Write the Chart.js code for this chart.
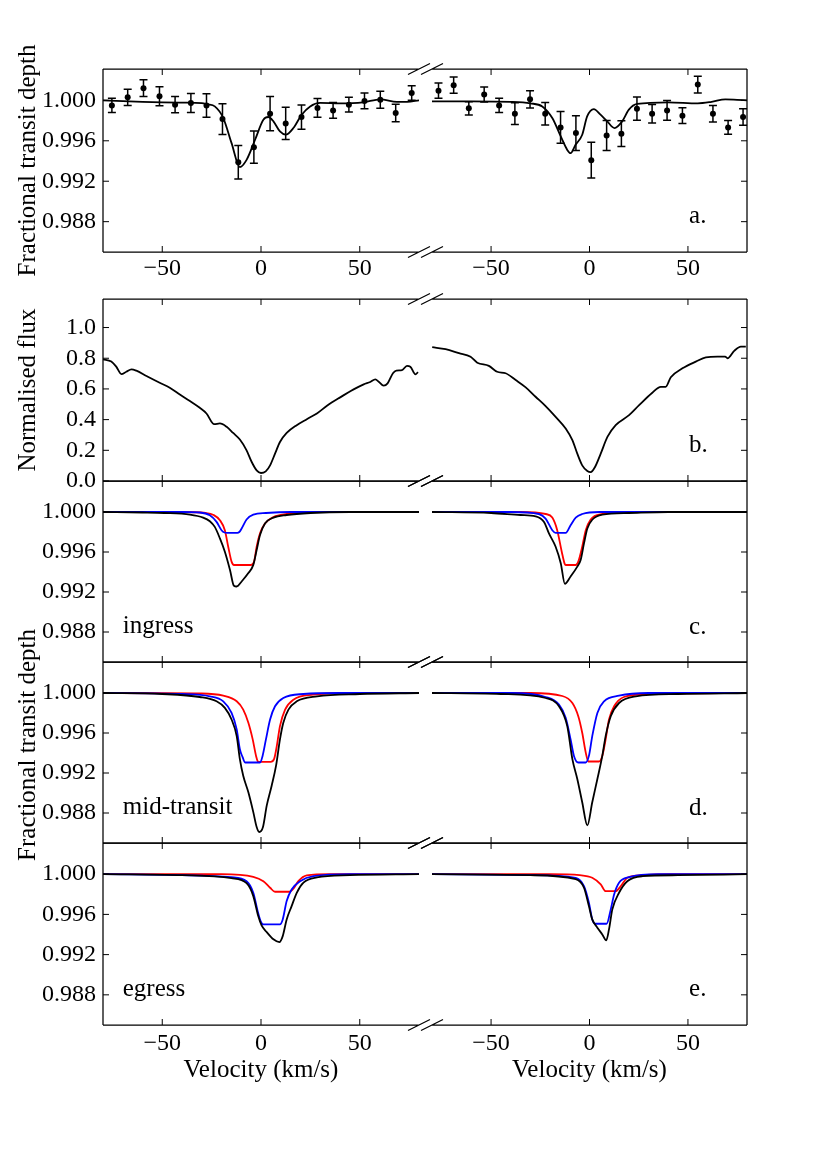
<!DOCTYPE html>
<html>
<head>
<meta charset="utf-8">
<script src="https://cdn.jsdelivr.net/npm/chart.js@4.4.0/dist/chart.umd.min.js"></script>
<style>
  html, body { margin: 0; padding: 0; background: #fff; }
  #page { position: relative; width: 830px; height: 1173px; background: #fff; }
  #page canvas { position: absolute; left: 0; top: 0; }
</style>
</head>
<body>
<div id="page"></div>
<script>
// tick values
const velocityTicks = [-50, 0, 50];
const depthTicks = [0.988, 0.992, 0.996, 1.000];
const fluxTicks = [0.0, 0.2, 0.4, 0.6, 0.8, 1.0];

// panel a: observed points
const aLeftVel = [-75.5, -67.5, -59.5, -51.4, -43.5, -35.5, -27.6, -19.5, -11.5, -3.6, 4.6, 12.5, 20.5, 28.6, 36.5, 44.5, 52.4, 60.4, 68.2, 76.3];
const aLeftDepth = [0.99950, 1.00030, 1.00120, 1.00040, 0.99957, 0.99974, 0.99950, 0.99815, 0.99388, 0.99537, 0.99868, 0.99772, 0.99835, 0.99925, 0.99900, 0.99957, 0.99994, 1.00007, 0.99875, 1.00073];
const aLeftErr = [0.00071, 0.00080, 0.00083, 0.00094, 0.00080, 0.00094, 0.00116, 0.00152, 0.00166, 0.00159, 0.00169, 0.00160, 0.00120, 0.00093, 0.00078, 0.00073, 0.00078, 0.00084, 0.00086, 0.00071];

const aRightVel = [-76.7, -69.0, -61.3, -53.5, -45.9, -37.9, -30.2, -22.5, -14.7, -6.9, 0.9, 8.7, 16.2, 24.1, 31.8, 39.4, 47.2, 55.0, 62.7, 70.4, 78.0];
const aRightDepth = [1.00096, 1.00150, 0.99921, 1.00057, 0.99950, 0.99868, 1.00010, 0.99868, 0.99732, 0.99676, 0.99408, 0.99652, 0.99670, 0.99918, 0.99868, 0.99900, 0.99848, 1.00156, 0.99868, 0.99732, 0.99835];
const aRightErr = [0.00076, 0.00080, 0.00066, 0.00074, 0.00071, 0.00108, 0.00086, 0.00111, 0.00157, 0.00172, 0.00177, 0.00149, 0.00127, 0.00114, 0.00091, 0.00098, 0.00078, 0.00083, 0.00081, 0.00068, 0.00081];

// panel a: model curves [velocity, depth]
const aLeftModel = [[-80, 1.0000], [-70, 0.99992], [-60, 0.99985], [-50, 0.9998], [-40, 0.99977], [-30, 0.99972], [-27, 0.9996], [-23.4, 0.9994], [-19.1, 0.99825], [-14.9, 0.99577], [-10.7, 0.99340], [-7.3, 0.99411], [-3.0, 0.9961], [1.2, 0.99808], [3.7, 0.99835], [6.3, 0.99792], [9.6, 0.99692], [12.5, 0.9966], [16.4, 0.99726], [20.6, 0.99858], [24.9, 0.9994], [29.9, 0.99974], [40, 0.9997], [51.6, 0.9998], [60.4, 1.0001], [68.8, 0.99984], [74, 0.99985], [80, 1.0000]];
const aRightModel = [[-80, 0.9999], [-60, 0.9999], [-40, 0.99985], [-30, 0.9997], [-24, 0.9994], [-18.9, 0.99825], [-14.6, 0.99643], [-11.3, 0.9951], [-9.6, 0.99478], [-7.1, 0.9956], [-3.7, 0.9966], [-1.2, 0.99841], [2.2, 0.99914], [5.6, 0.99858], [9.0, 0.99792], [12.7, 0.99726], [16.6, 0.99792], [20, 0.99908], [24.2, 0.99964], [40, 0.9998], [55, 0.9997], [62, 0.99985], [69, 1.0001], [75, 1.00005], [80, 1.0000]];

// panel b: normalised flux [velocity, flux]
const bLeftFlux = [[-80, 0.793], [-75.8, 0.778], [-73.3, 0.745], [-70.7, 0.697], [-68.2, 0.712], [-65.6, 0.728], [-63.1, 0.719], [-58.0, 0.684], [-51.3, 0.640], [-46.2, 0.608], [-41.1, 0.564], [-36.0, 0.521], [-31.0, 0.477], [-27.6, 0.440], [-23.7, 0.370], [-20.8, 0.375], [-17.4, 0.353], [-14.1, 0.313], [-10.7, 0.270], [-7.3, 0.200], [-4.7, 0.124], [-2.2, 0.069], [0, 0.052], [2.4, 0.063], [4.6, 0.102], [7.1, 0.178], [9.6, 0.254], [13.0, 0.313], [18.1, 0.364], [23.2, 0.403], [28.3, 0.440], [33.4, 0.490], [40.1, 0.545], [46.9, 0.597], [52.0, 0.630], [55.3, 0.645], [57.9, 0.662], [59.6, 0.647], [62.1, 0.621], [64.1, 0.636], [66.8, 0.702], [68.5, 0.719], [71.4, 0.722], [73.9, 0.750], [75.6, 0.745], [78.2, 0.695], [79.5, 0.710]];
const bRightFlux = [[-79.9, 0.872], [-73.1, 0.859], [-66.3, 0.833], [-60.4, 0.810], [-57.0, 0.771], [-51.1, 0.750], [-46.9, 0.712], [-42.6, 0.702], [-37.5, 0.658], [-32.4, 0.610], [-27.4, 0.549], [-22.3, 0.488], [-17.2, 0.418], [-12.1, 0.342], [-8.7, 0.266], [-6.2, 0.178], [-3.7, 0.102], [-1.1, 0.065], [0.6, 0.058], [2.8, 0.091], [5.7, 0.178], [9.1, 0.287], [13.3, 0.364], [20.1, 0.429], [25.2, 0.494], [31.9, 0.575], [36.2, 0.614], [38.7, 0.614], [41.3, 0.676], [47.2, 0.734], [54.0, 0.778], [59.1, 0.806], [65.0, 0.810], [68.9, 0.810], [70.1, 0.800], [73.5, 0.848], [76.9, 0.876], [79.4, 0.876]];

// panel c: ingress
const cLeftTotal = [[-80, 1], [-60, 0.99995], [-49, 0.9999], [-36, 0.99974], [-29.3, 0.99944], [-25.9, 0.99908], [-23.4, 0.99851], [-20.8, 0.99736], [-18.3, 0.99603], [-15.7, 0.99421], [-13.7, 0.99262], [-12.3, 0.99255], [-9.8, 0.99305], [-6.4, 0.99389], [-3.9, 0.99471], [-2.2, 0.9962], [-0.5, 0.99769], [2, 0.99885], [6.3, 0.99944], [13, 0.9997], [25, 0.9999], [45, 1], [80, 1]];
const cLeftRed = [[-80, 1], [-40, 1], [-28, 0.9999], [-24, 0.9997], [-20.8, 0.99918], [-18.3, 0.99818], [-16.6, 0.99653], [-14.9, 0.99504], [-13.7, 0.9947], [-5, 0.9947], [-3.5, 0.99504], [-2.2, 0.99653], [-0.5, 0.99786], [2, 0.99885], [6.3, 0.9995], [13, 0.9998], [25, 1], [80, 1]];
const cLeftBlue = [[-80, 1], [-40, 1], [-31, 0.99995], [-25.9, 0.99967], [-22.5, 0.99901], [-20, 0.99818], [-18.5, 0.99795], [-17, 0.99792], [-12, 0.99792], [-11, 0.998], [-9.8, 0.99835], [-7.3, 0.99925], [-3.9, 0.99974], [2.5, 0.9999], [15, 1], [80, 1]];
const cRightTotal = [[-80, 1], [-50, 0.9999], [-35, 0.9997], [-27.4, 0.99957], [-23.1, 0.99901], [-20.6, 0.99786], [-17.2, 0.99653], [-14.6, 0.99488], [-12.5, 0.99282], [-9.6, 0.99355], [-6.2, 0.99454], [-4.5, 0.9952], [-2.8, 0.99686], [-1.1, 0.99835], [1.5, 0.99925], [6.5, 0.99974], [20, 0.9999], [40, 1], [80, 1]];
const cRightRed = [[-80, 1], [-35, 1], [-22.3, 0.9998], [-18.9, 0.99944], [-16.4, 0.99818], [-14.1, 0.99603], [-12.6, 0.99481], [-12.1, 0.9947], [-7.0, 0.9947], [-5.7, 0.99504], [-3.7, 0.99653], [-1.9, 0.99818], [0.6, 0.99925], [6.5, 0.9998], [20, 1], [80, 1]];
const cRightBlue = [[-80, 1], [-40, 1], [-25.7, 0.9998], [-22.3, 0.99934], [-18.9, 0.99818], [-17.2, 0.99792], [-12.1, 0.99792], [-9.6, 0.99868], [-7.0, 0.99944], [-3.7, 0.9998], [5, 1], [80, 1]];

// panel d: mid-transit
const dLeftTotal = [[-80, 1], [-50, 0.9999], [-31, 0.9996], [-22.5, 0.99917], [-18.3, 0.99851], [-14.9, 0.99735], [-12.3, 0.99569], [-10.7, 0.99338], [-9.0, 0.99172], [-6.4, 0.99007], [-3.9, 0.98809], [-2.2, 0.9866], [-0.9, 0.9861], [1.0, 0.9866], [2.9, 0.98874], [5.4, 0.99073], [7.6, 0.99271], [9.6, 0.99536], [11.3, 0.99702], [13.9, 0.99834], [18.1, 0.99917], [28.4, 0.99967], [50, 0.9999], [80, 1]];
const dLeftRed = [[-80, 1], [-30, 0.99995], [-19.1, 0.99973], [-12.3, 0.99917], [-9.0, 0.99834], [-6.4, 0.99702], [-4.2, 0.99536], [-2.5, 0.99371], [-1.4, 0.99311], [4.9, 0.99311], [6.6, 0.99338], [8.0, 0.9947], [9.6, 0.99669], [12.2, 0.99834], [16.4, 0.99933], [26.4, 0.99983], [45, 1], [80, 1]];
const dLeftBlue = [[-80, 1], [-40, 0.9999], [-25.9, 0.99967], [-19.1, 0.99917], [-14.9, 0.99801], [-12.3, 0.99636], [-10.7, 0.99437], [-9.3, 0.99358], [-8.1, 0.99305], [-0.5, 0.99305], [0.8, 0.99371], [2.5, 0.99536], [4.6, 0.99735], [7.1, 0.99867], [11.3, 0.9995], [21.5, 0.9999], [40, 1], [80, 1]];
const dRightTotal = [[-80, 1], [-45, 0.9999], [-22.3, 0.9995], [-15.5, 0.99867], [-11.3, 0.99669], [-8.7, 0.99338], [-6.2, 0.9914], [-3.7, 0.98908], [-1.1, 0.98676], [1.4, 0.98908], [4.0, 0.9914], [6.5, 0.99371], [8.2, 0.99569], [10.8, 0.99768], [15.0, 0.999], [23.5, 0.99967], [45, 0.9999], [80, 1]];
const dRightRed = [[-80, 1], [-30, 1], [-13.8, 0.9997], [-8.7, 0.999], [-5.7, 0.99768], [-3.7, 0.99603], [-1.9, 0.99404], [-0.6, 0.99315], [4.8, 0.99315], [6.5, 0.99371], [8.2, 0.99536], [9.9, 0.99735], [12.5, 0.99867], [17.5, 0.9996], [30, 0.9999], [80, 1]];
const dRightBlue = [[-80, 1], [-40, 1], [-22.3, 0.9996], [-15.5, 0.99884], [-12.1, 0.99752], [-9.6, 0.99536], [-7.9, 0.99371], [-5.7, 0.99305], [-1.9, 0.99305], [-0.3, 0.99371], [1.4, 0.99569], [4.0, 0.99801], [7.4, 0.99917], [15, 0.99973], [30, 1], [80, 1]];

// panel e: egress
const eLeftTotal = [[-80, 1], [-40, 0.9999], [-15, 0.9996], [-7.3, 0.9991], [-3.9, 0.99782], [-1.4, 0.99583], [0.3, 0.9949], [2.9, 0.99424], [6.3, 0.99352], [9.3, 0.99325], [11, 0.99384], [13, 0.9955], [15.5, 0.99682], [18.1, 0.99815], [21.5, 0.99915], [28.3, 0.99967], [45, 0.9999], [80, 1]];
const eLeftRed = [[-80, 1], [-20, 1], [-3.9, 0.99974], [1.2, 0.9993], [4.6, 0.99865], [7.1, 0.99825], [14.4, 0.99825], [16.4, 0.99855], [18.9, 0.9993], [23.2, 0.99987], [35, 1], [80, 1]];
const eLeftBlue = [[-80, 1], [-40, 0.9999], [-15, 0.9997], [-7.3, 0.9993], [-3.9, 0.99815], [-1.9, 0.9965], [-0.2, 0.99534], [1.2, 0.995], [9.6, 0.995], [11, 0.9955], [13, 0.99732], [15.5, 0.99848], [19.8, 0.9993], [26.6, 0.9998], [45, 1], [80, 1]];
const eRightTotal = [[-80, 1], [-30, 0.9999], [-7, 0.9995], [-2.8, 0.99865], [-0.3, 0.99682], [1.4, 0.9955], [4.0, 0.99468], [6.5, 0.99401], [8.5, 0.99342], [9.9, 0.99451], [11.6, 0.9965], [15, 0.99815], [19.2, 0.9993], [27, 0.9998], [45, 0.9999], [80, 1]];
const eRightRed = [[-80, 1], [-20, 1], [-5, 0.9999], [1.4, 0.99964], [5.7, 0.99898], [8.2, 0.99831], [13.3, 0.99831], [15.9, 0.99881], [19.2, 0.99964], [27, 0.9999], [40, 1], [80, 1]];
const eRightBlue = [[-80, 1], [-30, 0.9999], [-7, 0.99964], [-2.8, 0.99881], [-0.3, 0.99716], [1.4, 0.9955], [3.1, 0.99507], [8.7, 0.99507], [10.8, 0.9965], [12.5, 0.99798], [15, 0.99914], [20.1, 0.9997], [35, 1], [80, 1]];

// ---------------------------------------------------------------
const FONT = "'Liberation Serif', 'Times New Roman', serif";
Chart.defaults.font.family = FONT;
Chart.defaults.font.size = 24;
Chart.defaults.color = '#000';

const page = document.getElementById('page');
const COLS = { left: { l: 103, r: 419 }, right: { l: 432, r: 747 } };
const ROWS = { a: { t: 69, b: 252 }, b: { t: 299, b: 481 }, c: { t: 481, b: 662 }, d: { t: 662, b: 843 }, e: { t: 843, b: 1025 } };
const DEPTH_RANGE = [0.985, 1.0031];
const FLUX_RANGE = [0, 1.186];

const toXY = pairs => pairs.map(([x, y]) => ({ x, y }));
const minus = v => (v < 0 ? '\u2212' + Math.abs(v) : String(v));

function curve(pairs, color) {
  return {
    data: toXY(pairs),
    borderColor: color,
    borderWidth: 1.8,
    pointRadius: 0,
    fill: false,
    cubicInterpolationMode: 'monotone'
  };
}

function points(vel, depth) {
  return {
    data: vel.map((v, i) => ({ x: v, y: depth[i] })),
    showLine: false,
    pointRadius: 3,
    pointBackgroundColor: '#000',
    pointBorderColor: '#000',
    pointBorderWidth: 0
  };
}

// spines, inward ticks, break marks, error bars and panel texts
function decor(p) {
  return {
    id: 'decor',
    beforeDatasetsDraw(chart) {
      if (!p.errors) return;
      const { ctx } = chart;
      const xs = chart.scales.x, ys = chart.scales.y;
      const [vel, depth, err] = p.errors;
      ctx.save();
      ctx.strokeStyle = '#000';
      ctx.lineWidth = 1.5;
      ctx.beginPath();
      vel.forEach((v, i) => {
        const px = xs.getPixelForValue(v);
        const hi = ys.getPixelForValue(depth[i] + err[i]);
        const lo = ys.getPixelForValue(depth[i] - err[i]);
        ctx.moveTo(px, hi); ctx.lineTo(px, lo);
        ctx.moveTo(px - 4, hi); ctx.lineTo(px + 4, hi);
        ctx.moveTo(px - 4, lo); ctx.lineTo(px + 4, lo);
      });
      ctx.stroke();
      ctx.restore();
    },
    afterDraw(chart) {
      const { ctx, chartArea: ca } = chart;
      const xs = chart.scales.x, ys = chart.scales.y;
      const w = ca.right - ca.left, h = ca.bottom - ca.top;
      const edge = p.side === 'left' ? ca.left : ca.right;
      const open = p.side === 'left' ? ca.right : ca.left;
      ctx.save();
      ctx.strokeStyle = '#000';
      ctx.lineWidth = 1.25;
      ctx.beginPath();
      ctx.moveTo(ca.left, ca.top); ctx.lineTo(ca.right, ca.top);
      ctx.moveTo(ca.left, ca.bottom); ctx.lineTo(ca.right, ca.bottom);
      ctx.moveTo(edge, ca.top); ctx.lineTo(edge, ca.bottom);
      [ca.top, ca.bottom].forEach(by => {
        ctx.moveTo(open - 11, by + 5.5); ctx.lineTo(open + 11, by - 5.5);
      });
      ctx.stroke();

      ctx.lineWidth = 1;
      ctx.beginPath();
      velocityTicks.forEach(v => {
        const px = xs.getPixelForValue(v);
        ctx.moveTo(px, ca.top); ctx.lineTo(px, ca.top + 6);
        ctx.moveTo(px, ca.bottom); ctx.lineTo(px, ca.bottom - 6);
      });
      const dir = p.side === 'left' ? 1 : -1;
      p.yTicks.forEach(v => {
        const py = ys.getPixelForValue(v);
        ctx.moveTo(edge, py); ctx.lineTo(edge + 6 * dir, py);
      });
      ctx.stroke();

      ctx.fillStyle = '#000';
      ctx.font = '25px ' + FONT;
      ctx.textAlign = 'left';
      ctx.textBaseline = 'alphabetic';
      if (p.tag) ctx.fillText(p.tag, ca.left + 0.816 * w, ca.bottom - 0.157 * h);
      if (p.note) ctx.fillText(p.note, ca.left + 0.0625 * w, ca.bottom - 0.16 * h);
      if (p.yTitle) {
        ctx.save();
        ctx.translate(ca.left - 75, p.yTitle.cy);
        ctx.rotate(-Math.PI / 2);
        ctx.textAlign = 'center';
        ctx.textBaseline = 'middle';
        ctx.fillText(p.yTitle.text, 0, 0);
        ctx.restore();
      }
      ctx.restore();
    }
  };
}

function addPanel(p) {
  const canvas = document.createElement('canvas');
  canvas.width = 830;
  canvas.height = 1173;
  page.appendChild(canvas);
  const col = COLS[p.side], row = ROWS[p.row];
  const yW = p.side === 'left' ? 60 : 0;
  const xH = p.xSize || 0;

  const xScale = {
    type: 'linear',
    min: -80,
    max: 80,
    display: xH > 0,
    afterBuildTicks: s => { s.ticks = velocityTicks.map(v => ({ value: v })); },
    ticks: { callback: v => minus(v), padding: p.xPad || 2, maxRotation: 0 },
    grid: { display: false, drawTicks: false },
    border: { display: false },
    title: { display: !!p.xTitle, text: p.xTitle || '', font: { size: 25 }, padding: { top: 0, bottom: 0 } }
  };
  if (xH > 0) xScale.afterFit = s => { s.height = xH; };

  const yScale = {
    type: 'linear',
    position: p.side,
    min: p.range[0],
    max: p.range[1],
    display: p.side === 'left',
    afterBuildTicks: s => { s.ticks = p.yTicks.map(v => ({ value: v })); },
    ticks: { callback: v => v.toFixed(p.digits), padding: 7 },
    grid: { display: false, drawTicks: false },
    border: { display: false }
  };
  if (p.side === 'left') yScale.afterFit = s => { s.width = yW; };

  new Chart(canvas, {
    type: 'line',
    data: { datasets: p.datasets },
    options: {
      responsive: false,
      animation: false,
      devicePixelRatio: 1,
      events: [],
      layout: { padding: { left: col.l - yW, right: 830 - col.r, top: row.t, bottom: 1173 - row.b - xH } },
      plugins: { legend: { display: false }, tooltip: { enabled: false } },
      scales: { x: xScale, y: yScale }
    },
    plugins: [decor(p)]
  });
}

const depthTitleCy = (ROWS.c.t + ROWS.e.b) / 2 - 8;

// panel a
addPanel({ row: 'a', side: 'left', range: DEPTH_RANGE, yTicks: depthTicks, digits: 3, xSize: 34, xPad: 2,
  errors: [aLeftVel, aLeftDepth, aLeftErr],
  yTitle: { text: 'Fractional transit depth', cy: (ROWS.a.t + ROWS.a.b) / 2 },
  datasets: [points(aLeftVel, aLeftDepth), curve(aLeftModel, '#000')] });
addPanel({ row: 'a', side: 'right', range: DEPTH_RANGE, yTicks: depthTicks, digits: 3, xSize: 34, xPad: 2,
  errors: [aRightVel, aRightDepth, aRightErr], tag: 'a.',
  datasets: [points(aRightVel, aRightDepth), curve(aRightModel, '#000')] });

// panel b
addPanel({ row: 'b', side: 'left', range: FLUX_RANGE, yTicks: fluxTicks, digits: 1,
  yTitle: { text: 'Normalised flux', cy: (ROWS.b.t + ROWS.b.b) / 2 },
  datasets: [curve(bLeftFlux, '#000')] });
addPanel({ row: 'b', side: 'right', range: FLUX_RANGE, yTicks: fluxTicks, digits: 1, tag: 'b.',
  datasets: [curve(bRightFlux, '#000')] });

// panel c
addPanel({ row: 'c', side: 'left', range: DEPTH_RANGE, yTicks: depthTicks, digits: 3, note: 'ingress',
  datasets: [curve(cLeftTotal, '#000'), curve(cLeftBlue, '#0000ff'), curve(cLeftRed, '#ff0000')] });
addPanel({ row: 'c', side: 'right', range: DEPTH_RANGE, yTicks: depthTicks, digits: 3, tag: 'c.',
  datasets: [curve(cRightTotal, '#000'), curve(cRightBlue, '#0000ff'), curve(cRightRed, '#ff0000')] });

// panel d
addPanel({ row: 'd', side: 'left', range: DEPTH_RANGE, yTicks: depthTicks, digits: 3, note: 'mid-transit',
  yTitle: { text: 'Fractional transit depth', cy: depthTitleCy },
  datasets: [curve(dLeftTotal, '#000'), curve(dLeftBlue, '#0000ff'), curve(dLeftRed, '#ff0000')] });
addPanel({ row: 'd', side: 'right', range: DEPTH_RANGE, yTicks: depthTicks, digits: 3, tag: 'd.',
  datasets: [curve(dRightTotal, '#000'), curve(dRightBlue, '#0000ff'), curve(dRightRed, '#ff0000')] });

// panel e
addPanel({ row: 'e', side: 'left', range: DEPTH_RANGE, yTicks: depthTicks, digits: 3, note: 'egress',
  xSize: 60, xPad: 4, xTitle: 'Velocity (km/s)',
  datasets: [curve(eLeftTotal, '#000'), curve(eLeftBlue, '#0000ff'), curve(eLeftRed, '#ff0000')] });
addPanel({ row: 'e', side: 'right', range: DEPTH_RANGE, yTicks: depthTicks, digits: 3, tag: 'e.',
  xSize: 60, xPad: 4, xTitle: 'Velocity (km/s)',
  datasets: [curve(eRightTotal, '#000'), curve(eRightBlue, '#0000ff'), curve(eRightRed, '#ff0000')] });
</script>
</body>
</html>
